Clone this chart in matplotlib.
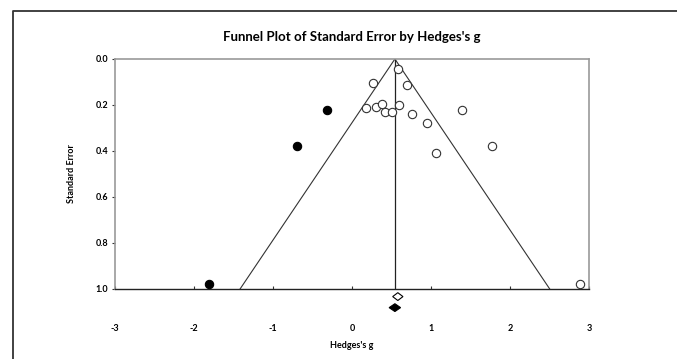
import matplotlib
matplotlib.use("Agg")
import matplotlib.pyplot as plt
from matplotlib.lines import Line2D

# studies (Hedges's g, standard error)
obs_g = [0.58, 0.26, 0.69, 0.18, 0.31, 0.38, 0.42, 0.50, 0.59, 0.76,
         0.95, 1.06, 1.39, 1.77, 2.89]
obs_se = [0.043, 0.106, 0.114, 0.213, 0.207, 0.194, 0.232, 0.229, 0.199, 0.241,
          0.280, 0.409, 0.220, 0.380, 0.978]

# imputed studies (trim and fill)
imp_g = [-0.32, -0.69, -1.81]
imp_se = [0.222, 0.380, 0.978]

# combined effects: observed and adjusted (point, lower, upper)
obs_mean = [0.58, 0.515, 0.645]
adj_mean = [0.543, 0.47, 0.615]

plt.rcParams['font.family'] = ['Lato', 'DejaVu Sans']
plt.rcParams['axes.unicode_minus'] = False

fig = plt.figure(figsize=(6.77, 3.59), dpi=100)
ax = fig.add_axes([115 / 677, 1 - 289 / 359, 474 / 677, 230 / 359])

# outer frame
fig.add_artist(Line2D([13 / 677, 13 / 677, 1], [0, 1 - 11 / 359, 1 - 11 / 359],
                      transform=fig.transFigure, color='#333333', lw=1.3))

center = adj_mean[0]
ax.plot([center - 1.96, center, center + 1.96], [1.0, 0.0, 1.0], color='#333333', lw=0.8)
ax.plot([center, center], [0, 1], color='#222222', lw=0.9)

ax.scatter(obs_g, obs_se, s=36, facecolors='white', edgecolors='#333333', linewidths=0.8, zorder=3)
ax.scatter(imp_g, imp_se, s=36, facecolors='black', edgecolors='black', linewidths=0.8, zorder=3)

# diamonds below the axis
def diamond(vals, y, h, fc):
    m, lo, hi = vals
    ax.fill([lo, m, hi, m], [y, y - h, y, y + h], facecolor=fc, edgecolor='black',
            lw=0.8, clip_on=False, zorder=4)

diamond(obs_mean, 1.033, 0.017, 'white')
diamond(adj_mean, 1.081, 0.017, 'black')

ax.set_xlim(-3, 3)
ax.set_ylim(1.0, 0.0)
ax.set_xticks([-3, -2, -1, 0, 1, 2, 3])
ax.set_yticks([0.0, 0.2, 0.4, 0.6, 0.8, 1.0])
ax.set_yticklabels(['0.0', '0.2', '0.4', '0.6', '0.8', '1.0'])
ax.tick_params(axis='x', direction='in', length=2, pad=25, labelsize=6.5, color='#333333')
ax.tick_params(axis='y', direction='out', length=2, pad=3, labelsize=6.5, color='#333333')
for lab in ax.get_xticklabels() + ax.get_yticklabels():
    lab.set_fontweight('bold')

for side in ['top', 'right', 'left']:
    ax.spines[side].set_color('#999999')
    ax.spines[side].set_linewidth(1.2)
ax.spines['bottom'].set_color('#222222')
ax.spines['bottom'].set_linewidth(1.0)

ax.set_title("Funnel Plot of Standard Error by Hedges's g", fontsize=9.5, fontweight='bold', pad=13)
ax.set_xlabel("Hedges's g", fontsize=6.5, fontweight='bold', va='center')
ax.xaxis.set_label_coords(0.5, (289 - 345) / 230)
ax.set_ylabel("Standard Error", fontsize=6.5, fontweight='bold', va='center')
ax.yaxis.set_label_coords((72 - 115) / 474, 0.5)

fig.savefig("out.png", dpi=100)
